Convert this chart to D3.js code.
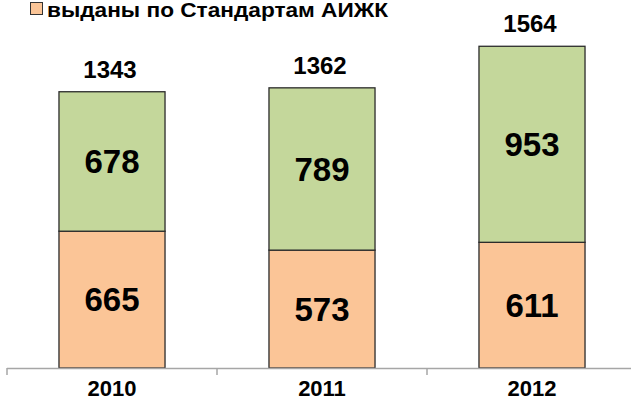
<!DOCTYPE html>
<html>
<head>
<meta charset="utf-8">
<script src="https://cdn.jsdelivr.net/npm/d3@7"></script>
<style>
  body { margin: 0; background: #fff; }
  text { font-family: Arial, "Liberation Sans", sans-serif; font-weight: bold; fill: #000; }
</style>
</head>
<body>
<div id="chart"></div>
<script>
// данные
const years = ['2010', '2011', '2012'];
const aijk = [665, 573, 611];      // выданы по Стандартам АИЖК
const other = [678, 789, 953];     // прочие
const totals = [1343, 1362, 1564];

const legendLabel = 'выданы по Стандартам АИЖК';
const colors = { aijk: '#fbc597', other: '#c4d79b' };

const width = 631, height = 401;
const baseY = 368;

const svg = d3.select('#chart')
    .append('svg')
    .attr('width', width)
    .attr('height', height);

const x = d3.scaleBand()
    .domain(years)
    .range([7, 637])
    .paddingInner(0.495)
    .paddingOuter(0.2475);

const y = d3.scaleLinear()
    .domain([0, 1600])
    .range([baseY, baseY - 1600 * 0.2057]);

const rows = years.map((yr, i) => ({ yr, aijk: aijk[i], other: other[i], total: totals[i] }));
const stack = d3.stack().keys(['aijk', 'other'])(rows);

// столбцы
stack.forEach(layer => {
    svg.append('g')
        .selectAll('rect')
        .data(layer)
        .enter()
        .append('rect')
        .attr('x', d => x(d.data.yr))
        .attr('y', d => y(d[1]))
        .attr('width', x.bandwidth())
        .attr('height', d => y(d[0]) - y(d[1]))
        .style('fill', colors[layer.key])
        .style('stroke', '#2b2b2b')
        .style('stroke-width', 1.3);

    svg.append('g')
        .selectAll('text')
        .data(layer)
        .enter()
        .append('text')
        .attr('x', d => x(d.data.yr) + x.bandwidth() / 2)
        .attr('y', d => (y(d[0]) + y(d[1])) / 2)
        .attr('dy', '0.36em')
        .attr('text-anchor', 'middle')
        .style('font-size', '33px')
        .text(d => d.data[layer.key]);
});

// итоги
svg.append('g')
    .selectAll('text')
    .data(rows)
    .enter()
    .append('text')
    .attr('x', d => x(d.yr) + x.bandwidth() / 2 - 2)
    .attr('y', d => y(d.total) - 14)
    .attr('text-anchor', 'middle')
    .style('font-size', '24px')
    .text(d => d.total);

// ось X
const axis = svg.append('g');
axis.append('line')
    .attr('x1', 7).attr('x2', width)
    .attr('y1', baseY + 0.5).attr('y2', baseY + 0.5)
    .style('stroke', '#a6a6a6')
    .style('stroke-width', 1.5);

axis.selectAll('.tick')
    .data(years.concat(['end']))
    .enter()
    .append('line')
    .attr('class', 'tick')
    .attr('x1', (d, i) => 7 + i * x.step())
    .attr('x2', (d, i) => 7 + i * x.step())
    .attr('y1', baseY)
    .attr('y2', baseY + 7)
    .style('stroke', '#a6a6a6')
    .style('stroke-width', 1.5);

axis.selectAll('.year')
    .data(years)
    .enter()
    .append('text')
    .attr('class', 'year')
    .attr('x', d => x(d) + x.bandwidth() / 2)
    .attr('y', 396)
    .attr('text-anchor', 'middle')
    .style('font-size', '22px')
    .text(d => d);

// легенда
svg.append('rect')
    .attr('x', 30.5).attr('y', 2.5)
    .attr('width', 12).attr('height', 12)
    .style('fill', colors.aijk)
    .style('stroke', '#333')
    .style('stroke-width', 1);

svg.append('text')
    .attr('x', 47)
    .attr('y', 17)
    .attr('textLength', 341)
    .attr('lengthAdjust', 'spacingAndGlyphs')
    .style('font-size', '20px')
    .text(legendLabel);
</script>
</body>
</html>
